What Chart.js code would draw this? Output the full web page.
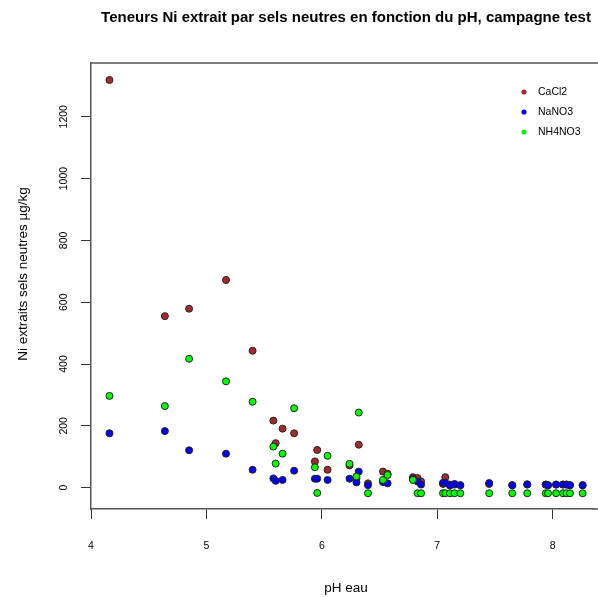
<!DOCTYPE html>
<html>
<head>
<meta charset="utf-8">
<script src="https://cdn.jsdelivr.net/npm/chart.js@4.4.1/dist/chart.umd.min.js"></script>
<style>
  html, body { margin: 0; padding: 0; background: #fff; }
  #wrap { width: 598px; height: 597px; }
</style>
</head>
<body>
<div id="wrap"><canvas id="myChart" width="598" height="597"></canvas></div>
<script>
/** DATA **/
const phEau = [4.16, 4.64, 4.85, 5.17, 5.40, 5.58, 5.60, 5.66, 5.76, 5.94, 5.96, 6.05,
  6.24, 6.30, 6.32, 6.40, 6.53, 6.57, 6.79, 6.83, 6.86, 7.05, 7.07, 7.11, 7.15, 7.20,
  7.45, 7.65, 7.78, 7.94, 7.96, 8.03, 8.09, 8.12, 8.15, 8.26];
const niCaCl2 = [1319, 555, 579, 672, 443, 217, 144, 191, 176, 85, 122, 58,
  72, 30, 139, 14, 52, 45, 34, 31, 20, 12, 34, 10, 10, 8,
  12, 8, 10, 10, 8, 10, 10, 10, 8, 8];
const niNaNO3 = [176, 183, 121, 110, 58, 30, 22, 25, 55, 29, 29, 25,
  29, 17, 52, 8, 18, 14, 28, 20, 10, 16, 16, 7, 12, 8,
  15, 8, 11, 10, 8, 10, 10, 10, 8, 8];
const niNH4NO3 = [297, 264, 417, 344, 278, 133, 78, 110, 257, 66, -17, 103,
  77, 36, 243, -18, 25, 41, 25, -18, -18, -18, -18, -18, -18, -18,
  -18, -18, -18, -18, -18, -18, -18, -18, -18, -18];
const seriesNames = ['CaCl2', 'NaNO3', 'NH4NO3'];
const seriesColors = ['#a52a2a', '#0000ff', '#00ff00'];
const xTicks = [4, 5, 6, 7, 8];
const yTicks = [0, 200, 400, 600, 800, 1000, 1200];

const titleText = 'Teneurs Ni extrait par sels neutres en fonction du pH, campagne test';
const xTitle = 'pH eau';
const yTitle = 'Ni extraits sels neutres µg/kg';

function pts(ys) {
  return phEau.map((x, i) => ({ x: x, y: ys[i] }));
}

const allSeries = [niCaCl2, niNaNO3, niNH4NO3];

const datasets = allSeries.map((ys, i) => ({
  label: seriesNames[i],
  data: pts(ys),
  backgroundColor: seriesColors[i],
  borderColor: '#222',
  borderWidth: 1,
  pointRadius: 3.5,
  pointHoverRadius: 3.5,
  order: 3 - i
}));

/** texts drawn like R : title, axis titles, legend **/
const rTexts = {
  id: 'rTexts',
  afterDraw(chart) {
    const ctx = chart.ctx;
    const area = chart.chartArea;
    ctx.save();
    // box top line, and bottom axis running to the edge
    ctx.strokeStyle = '#555';
    ctx.lineWidth = 1.5;
    ctx.beginPath();
    ctx.moveTo(area.left, area.top);
    ctx.lineTo(chart.width, area.top);
    ctx.moveTo(area.right - 1, area.bottom);
    ctx.lineTo(chart.width, area.bottom);
    ctx.stroke();

    ctx.fillStyle = '#000';
    ctx.textAlign = 'center';
    ctx.textBaseline = 'middle';
    ctx.font = 'bold 15px "Liberation Sans", Arial, sans-serif';
    ctx.fillText(titleText, 346, 18);

    ctx.font = '13.5px "Liberation Sans", Arial, sans-serif';
    ctx.fillText(xTitle, 346, 588);

    ctx.save();
    ctx.translate(23, 274);
    ctx.rotate(-Math.PI / 2);
    ctx.fillText(yTitle, 0, 0);
    ctx.restore();

    // legend
    ctx.textAlign = 'left';
    ctx.font = '10.5px "Liberation Sans", Arial, sans-serif';
    seriesNames.forEach((name, i) => {
      const y = 92 + i * 20;
      ctx.fillStyle = seriesColors[i];
      ctx.beginPath();
      ctx.arc(524, y, 2.6, 0, Math.PI * 2);
      ctx.fill();
      ctx.fillStyle = '#000';
      ctx.fillText(name, 538, y + 0.5);
    });
    ctx.restore();
  }
};

const config = {
  type: 'scatter',
  data: { datasets: datasets },
  options: {
    responsive: false,
    animation: false,
    layout: { padding: { top: 63, right: 0, bottom: 0, left: 0 } },
    plugins: {
      legend: { display: false },
      title: { display: false },
      tooltip: { enabled: false }
    },
    scales: {
      x: {
        type: 'linear',
        min: 4,
        max: 8.354,
        afterBuildTicks: (scale) => { scale.ticks = xTicks.map(v => ({ value: v })); },
        afterFit: (scale) => {
          scale.height = 88;
          scale.paddingLeft = 0;
          scale.paddingRight = 0;
        },
        grid: { drawOnChartArea: false, tickLength: 10, tickColor: '#333', tickWidth: 1 },
        border: { display: true, color: '#555', width: 1.5 },
        ticks: {
          padding: 21,
          color: '#000',
          font: { family: '"Liberation Sans", Arial, sans-serif', size: 10.5 },
          maxRotation: 0,
          minRotation: 0,
          callback: (v) => String(v)
        }
      },
      y: {
        type: 'linear',
        min: -69,
        max: 1374,
        afterBuildTicks: (scale) => { scale.ticks = yTicks.map(v => ({ value: v })); },
        afterFit: (scale) => {
          scale.width = 91;
          scale.paddingTop = 0;
          scale.paddingBottom = 0;
        },
        grid: { drawOnChartArea: false, tickLength: 10, tickColor: '#333', tickWidth: 1 },
        border: { display: true, color: '#555', width: 1.5 },
        ticks: {
          padding: 5,
          crossAlign: 'center',
          color: '#000',
          font: { family: '"Liberation Sans", Arial, sans-serif', size: 10.5 },
          minRotation: 90,
          maxRotation: 90,
          callback: (v) => String(v)
        }
      }
    }
  },
  plugins: [rTexts]
};

var myChart = new Chart(document.getElementById('myChart'), config);
</script>
</body>
</html>
